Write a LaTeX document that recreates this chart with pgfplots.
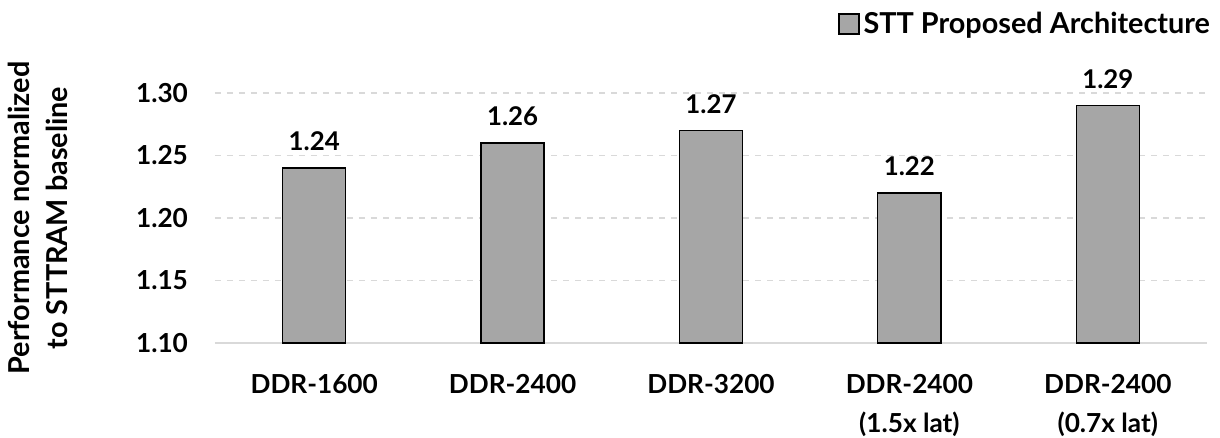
\documentclass[border=0pt]{standalone}
\usepackage{fontspec}
\setmainfont{Lato}
\usepackage{pgfplots}
\pgfplotsset{compat=1.18}
\definecolor{barfill}{HTML}{A6A6A6}
\definecolor{gridc}{HTML}{D9D9D9}
\newcommand{\cf}{\bfseries\fontsize{13.1}{19.5}\selectfont}
\newcommand{\df}{\bfseries\fontsize{12.9}{15}\selectfont}
\newcommand{\lf}{\bfseries\fontsize{14.4}{19}\selectfont}
\begin{document}
\begin{tikzpicture}
\useasboundingbox (-107.5pt,-47.5pt) rectangle (502.5pt,171.5pt);
\begin{axis}[
  at={(0,0)}, anchor=south west,
  scale only axis,
  width=496pt, height=125pt,
  ymin=1.10, ymax=1.30,
  xmin=-0.5, xmax=4.5,
  xtick=data,
  xticklabels={DDR-1600,DDR-2400,DDR-3200,{DDR-2400\\(1.5x lat)},{DDR-2400\\(0.7x lat)}},
  ytick={1.10,1.15,1.20,1.25,1.30},
  yticklabel style={/pgf/number format/fixed,/pgf/number format/precision=2,/pgf/number format/fixed zerofill, font=\cf, xshift=-10pt},
  /pgf/number format/assume math mode=true,
  xticklabel style={font=\cf, align=center, yshift=-12pt},
  major tick length=0pt,
  axis x line*=bottom,
  axis y line*=left,
  x axis line style={draw=gridc, line width=0.8pt, -},
  y axis line style={draw=none},
  ymajorgrids,
  grid style={draw=gridc, dashed, line width=0.6pt},
  ylabel={Performance normalized\\to STTRAM baseline},
  ylabel style={font=\lf, align=center, at={(axis description cs:0,0.5)}, anchor=south, rotate=0, yshift=70pt},
  clip=false,
  ybar, bar width=31.5pt,
  nodes near coords,
  nodes near coords style={font=\df, /pgf/number format/fixed,/pgf/number format/precision=2,/pgf/number format/fixed zerofill, anchor=south, yshift=5pt},
  legend style={draw=none, fill=none, at={(rel axis cs:1,1)}, anchor=east, yshift=34.5pt, xshift=3.5pt, font=\lf, nodes={font=\lf}, inner sep=0pt, outer sep=0pt},
  legend image code/.code={\draw[#1, draw=black] (0pt,-5pt) rectangle (10pt,5pt);},
]
\addplot[fill=barfill, draw=black, line width=0.6pt] coordinates {(0,1.24) (1,1.26) (2,1.27) (3,1.22) (4,1.29)};
\addlegendentry{STT Proposed Architecture}
\end{axis}
\end{tikzpicture}
\end{document}
